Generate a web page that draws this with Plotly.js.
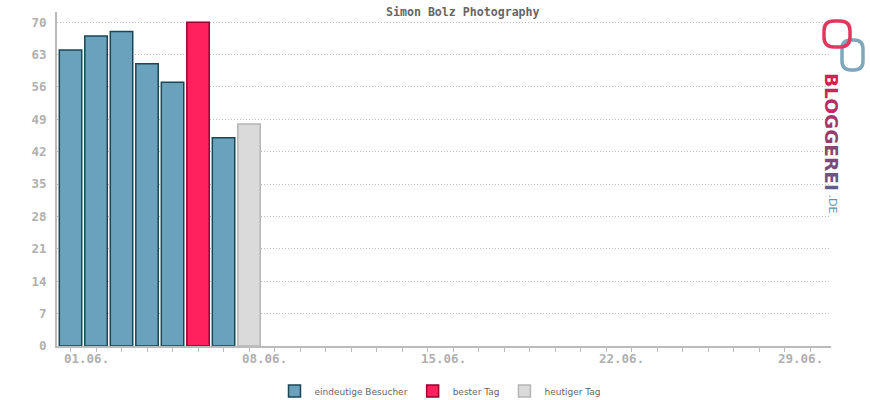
<!DOCTYPE html>
<html>
<head>
<meta charset="utf-8">
<script src="https://cdn.plot.ly/plotly-3.0.1.min.js"></script>
<style>html,body{margin:0;padding:0;background:#fff;}#chart{width:870px;height:400px;}</style>
</head>
<body>
<div id="chart"></div>
<script>
// Data
const visitorDays = [1, 2, 3, 4, 5, 7];
const visitorValues = [64, 67, 68, 61, 57, 45];
const bestDays = [6];
const bestValues = [70];
const todayDays = [8];
const todayValues = [48];
const labelDays = [1, 8, 15, 22, 29];
const labelTexts = ['01.06.', '08.06.', '15.06.', '22.06.', '29.06.'];
const allDays = Array.from({length: 30}, (_, i) => i + 1);
const yTicks = [0, 7, 14, 21, 28, 35, 42, 49, 56, 63, 70];

const L = 57, R = 831, T = 12, B = 346;
const px = x => (x - L) / (R - L);
const py = y => (B - y) / (B - T);

const barW = 0.88;
const traces = [
  {type: 'bar', name: 'eindeutige Besucher', x: visitorDays, y: visitorValues, width: barW,
   marker: {color: '#6aa2bb', line: {color: '#1b4656', width: 1.5}}},
  {type: 'bar', name: 'bester Tag', x: bestDays, y: bestValues, width: barW,
   marker: {color: '#ff215d', line: {color: '#99002f', width: 1.5}}},
  {type: 'bar', name: 'heutiger Tag', x: todayDays, y: todayValues, width: barW,
   marker: {color: '#dadada', line: {color: '#b5b5b5', width: 1.5}}}
];

const tickFont = {family: 'DejaVu Sans Mono', size: 12.5, color: '#b0b0b0', weight: 'bold'};

const annotations = labelDays.map((d, i) => ({
  x: d + 0.62, xref: 'x', y: 0, yref: 'paper', yanchor: 'top', yshift: -3,
  text: labelTexts[i], showarrow: false, font: tickFont
}));

annotations.push({
  x: px(463), xref: 'paper', y: py(12), yref: 'paper', yanchor: 'middle',
  text: '<b>Simon Bolz Photography</b>', showarrow: false,
  font: {family: 'DejaVu Sans Mono', size: 11.6, color: '#666'}
});

const logoColors = ['#d91d51', '#cb2458', '#bc2c5f', '#aa3466', '#983c6d', '#884574', '#784d7c', '#6b5584', '#5f5d8b'];
const letters = 'BLOGGEREI'.split('');
let logoText = letters.map((c, i) => `<span style="color:${logoColors[i]}">${c}</span>`).join('');
annotations.push({
  x: px(832), xref: 'paper', y: py(71), yref: 'paper', xanchor: 'center', yanchor: 'top',
  text: '<b>' + logoText + '</b>', textangle: 90, showarrow: false,
  font: {family: 'DejaVu Sans', size: 18.5}
});
annotations.push({
  x: px(832), xref: 'paper', y: py(192), yref: 'paper', xanchor: 'center', yanchor: 'top',
  text: '.DE', textangle: 90, showarrow: false,
  font: {family: 'DejaVu Sans', size: 11, color: '#5a93b6'}
});

function rr(x0, y0, x1, y1, r) {
  return `M${px(x0 + r)},${py(y0)} L${px(x1 - r)},${py(y0)} Q${px(x1)},${py(y0)} ${px(x1)},${py(y0 + r)} L${px(x1)},${py(y1 - r)} Q${px(x1)},${py(y1)} ${px(x1 - r)},${py(y1)} L${px(x0 + r)},${py(y1)} Q${px(x0)},${py(y1)} ${px(x0)},${py(y1 - r)} L${px(x0)},${py(y0 + r)} Q${px(x0)},${py(y0)} ${px(x0 + r)},${py(y0)} Z`;
}
const shapes = [
  {type: 'path', xref: 'paper', yref: 'paper', path: rr(842, 40, 863, 70, 9), line: {color: '#7fa6bb', width: 3.5}},
  {type: 'path', xref: 'paper', yref: 'paper', path: rr(824, 21, 850, 47, 10), line: {color: '#e2365f', width: 3.5}}
];

const layout = {
  width: 870, height: 400,
  margin: {l: L, r: 870 - R, t: T, b: 400 - B, autoexpand: false},
  paper_bgcolor: '#fff', plot_bgcolor: '#fff',
  bargap: 0, barmode: 'overlay',
  showlegend: true,
  legend: {orientation: 'h', x: px(440), xanchor: 'center', y: py(391), yanchor: 'middle',
           font: {family: 'DejaVu Sans', size: 9, color: '#666'}, itemwidth: 30, tracegroupgap: 0,
           bgcolor: 'rgba(0,0,0,0)'},
  xaxis: {range: [0.47, 30.82], tickvals: allDays, ticktext: allDays.map(() => ''),
          ticks: 'outside', ticklen: 4, tickcolor: '#bbb', tickwidth: 1,
          showgrid: false, zeroline: false, showline: true, linecolor: '#bbb', linewidth: 2,
          fixedrange: true},
  yaxis: {range: [0, 72.2], tickvals: yTicks, tickfont: tickFont, ticks: '',
          ticklabelstandoff: 6,
          showgrid: true, gridcolor: '#bdbdbd', griddash: '1px,2px', gridwidth: 1,
          zeroline: false, showline: true, linecolor: '#bbb', linewidth: 2, fixedrange: true},
  annotations: annotations,
  shapes: shapes
};

Plotly.newPlot('chart', traces, layout, {displayModeBar: false, staticPlot: true});
</script>
</body>
</html>
